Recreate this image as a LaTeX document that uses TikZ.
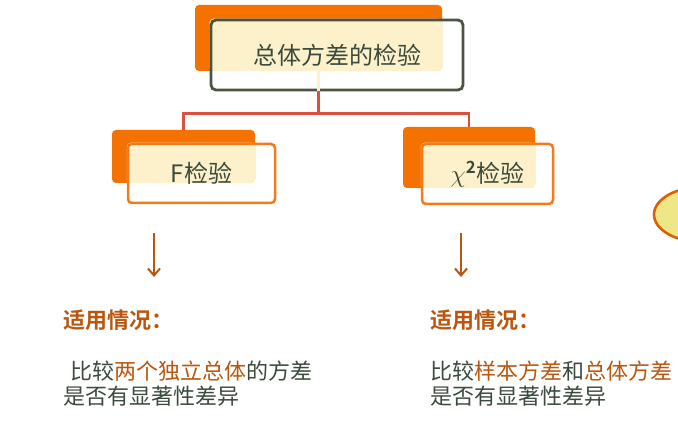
\documentclass[tikz,border=0pt]{standalone}
\usepackage{fontspec}
\setmainfont{Noto Sans CJK SC}[BoldFont={Noto Sans CJK SC Bold}]
\usetikzlibrary{arrows.meta,positioning,backgrounds,shapes.geometric}
\usepackage{xcolor}
\definecolor{accent}{HTML}{F47300}
\definecolor{cream}{HTML}{FCF1CB}
\definecolor{ink}{HTML}{3A4A3C}
\definecolor{frame}{HTML}{4B5441}
\definecolor{branch}{HTML}{DB5140}
\definecolor{rust}{HTML}{BA560E}
\definecolor{rim}{HTML}{F57A1C}
\definecolor{lemon}{HTML}{EFE787}
\definecolor{bubbleline}{HTML}{DE5E00}
\tikzset{
  every node/.style={text=ink},
  backbox/.style={fill=accent,rounded corners=4pt,inner sep=0pt},
  topbox/.style={draw=frame,line width=2.8pt,rounded corners=5pt,inner sep=0pt,font=\fontsize{24}{28}\selectfont},
  testbox/.style={draw=rim,line width=2.5pt,rounded corners=4pt,inner sep=0pt,font=\fontsize{24}{28}\selectfont},
  tree/.style={draw=branch,line width=2.6pt},
  down/.style={-{Straight Barb[length=7pt,width=12pt]},draw=rust,line width=2pt},
  head/.style={font=\fontsize{22}{25}\selectfont\bfseries,text=rust,inner sep=0pt},
  body/.style={font=\fontsize{22}{25}\selectfont,align=left,inner sep=0pt},
  bubble/.style={ellipse,draw=bubbleline,fill=lemon,line width=2.6pt,inner sep=0pt},
}
\newcommand{\hl}[1]{\textcolor{rust}{#1}}

\begin{document}
\begin{tikzpicture}[x=1pt,y=-1pt]
\useasboundingbox (0,0) rectangle (678,425);

% front boxes
\node[topbox,minimum width=252pt,minimum height=70pt] (top) at (337,55) {总体方差的检验};
\node[testbox,minimum width=147pt,minimum height=59pt] (ftest) at (201.5,173.5) {F检验};
\node[testbox,minimum width=131pt,minimum height=60pt] (chitest) at (487.5,174) {\(\chi\)\textsuperscript{\textbf{2}}检验};

% back plates
\begin{scope}[on background layer]
\node[backbox,minimum width=247pt,minimum height=66pt] (topback) at (318.5,38) {};
\node[backbox,minimum width=143pt,minimum height=53pt] (fback) at (183.5,156.5) {};
\node[backbox,minimum width=132pt,minimum height=61pt] (chiback) at (469,157.5) {};
\fill[cream,rounded corners=4pt] (top.north west) rectangle (topback.south east);
\fill[cream,rounded corners=4pt] (ftest.north west) rectangle (fback.south east);
\fill[cream,rounded corners=4pt] (chitest.north west) rectangle (chiback.south east);
\end{scope}

% tree
\coordinate (split) at (318.5,113.5);
\draw[cream,line width=2.4pt] (topback.south) -- ([yshift=-2pt]topback.center |- top.south);
\draw[tree] (topback.center |- top.south) -- (split);
\draw[tree] (split) -| (fback.north);
\draw[tree] (split) -| (chiback.north);

% arrows
\coordinate (fa) at (154,233);
\coordinate (ca) at (461,233);
\draw[down] (fa) -- ++(0,44);
\draw[down] (ca) -- ++(0,44);

% usage notes
\node[head,anchor=base west] (fuse) at (63,328) {适用情况：};
\node[head,anchor=base west] (chiuse) at (430,328) {适用情况：};
\node[body,anchor=north west] (fnote) at (63,361) {\hspace{7pt}比较\hl{两个独立总体}的方差\\是否有显著性差异};
\node[body,anchor=north west] (chinote) at (430,361) {比较\hl{样本方差}和\hl{总体方差}\\是否有显著性差异};

% cut-off bubble
\node[bubble,minimum width=100pt,minimum height=56pt] (side) at (704,214.5) {};

\end{tikzpicture}
\end{document}
